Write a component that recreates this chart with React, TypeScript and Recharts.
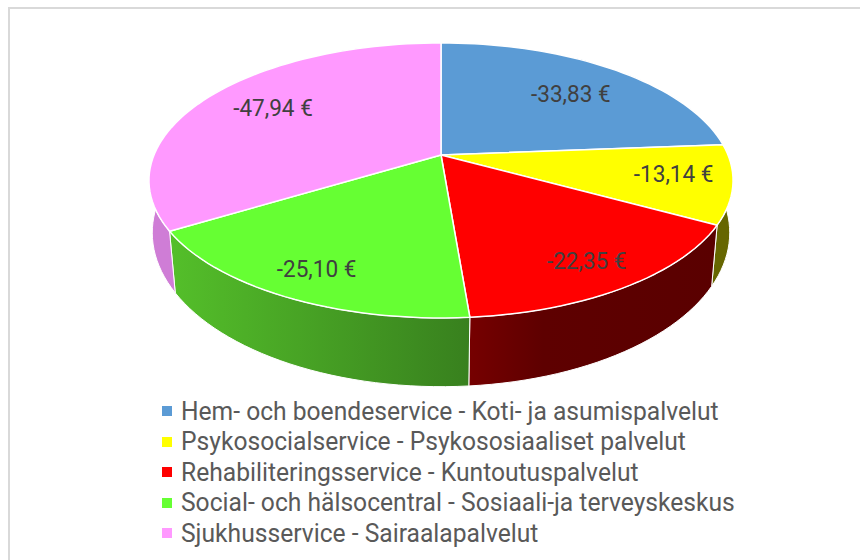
import { PieChart, Pie, Legend } from 'recharts';

const services = [
  'Hem- och boendeservice - Koti- ja asumispalvelut',
  'Psykosocialservice - Psykososiaaliset palvelut',
  'Rehabiliteringsservice - Kuntoutuspalvelut',
  'Social- och hälsocentral - Sosiaali-ja terveyskeskus',
  'Sjukhusservice - Sairaalapalvelut',
];
const costs = [-33.83, -13.14, -22.35, -25.1, -47.94];
const topColors = ['#5b9bd5', '#ffff00', '#ff0000', '#66ff33', '#ff99ff'];
const wallColors = ['#375d80', '#666600', 'url(#wallRed)', 'url(#wallGreen)', '#cf7dd6'];
// how far out on the slice each label sits, and a small pixel nudge
const labelReach = [0.72, 0.8, 0.82, 0.83, 0.72];
const labelNudgeX = [2, 1, -1, 1, 1];
const labelNudgeY = [3, -4, 1, 0, -3];

const topRows = services.map((name, i) => ({
  name,
  value: Math.abs(costs[i]),
  cost: costs[i],
  fill: topColors[i],
  reach: labelReach[i],
  nudgeX: labelNudgeX[i],
  nudgeY: labelNudgeY[i],
}));
const wallRows = services.map((name, i) => ({ name, value: Math.abs(costs[i]), fill: wallColors[i] }));

// perspective of the tilted disc, fitted on the reference
const TOP_FACE = { tilt: 0.185, radius: 287, depth: 132.8, cy: 155 };
const BOTTOM_FACE = { tilt: 0.16, radius: 285, depth: 150, cy: 208.1 };
const FONT = 'Roboto, sans-serif';

type Face = typeof TOP_FACE;

// pie angle (degrees, recharts convention) to a point on a face of the disc
function project(face: Face, cx: number, angle: number, reach = 1) {
  const a = ((90 - angle) * Math.PI) / 180;
  const X = reach * Math.sin(a);
  const Y = -reach * Math.cos(a);
  const w = 1 - face.tilt * Y;
  return { x: cx + (face.radius * X) / w, y: face.cy + (face.depth * Y) / w };
}

function arcPoints(face: Face, cx: number, from: number, to: number) {
  const n = Math.max(2, Math.ceil(Math.abs(to - from) / 2));
  const pts = [];
  for (let i = 0; i <= n; i++) pts.push(project(face, cx, from + ((to - from) * i) / n));
  return pts;
}

const toPath = (pts: { x: number; y: number }[]) => 'M' + pts.map((p) => `${p.x.toFixed(2)},${p.y.toFixed(2)}`).join('L') + 'Z';

function TopSlice(props: any) {
  const { cx, cy, startAngle, endAngle, fill } = props;
  const rim = arcPoints(TOP_FACE, cx, startAngle, endAngle);
  return <path d={toPath([{ x: cx, y: cy }, ...rim])} fill={fill} stroke="#fff" strokeWidth={1.5} strokeLinejoin="round" />;
}

function WallSlice(props: any) {
  const { cx, startAngle, endAngle, fill } = props;
  const rim = arcPoints(TOP_FACE, cx, startAngle, endAngle);
  const low = arcPoints(BOTTOM_FACE, cx, endAngle, startAngle);
  return <path d={toPath([...rim, ...low])} fill={fill} stroke="#fff" strokeWidth={1} strokeLinejoin="round" />;
}

function SliceLabel(props: any) {
  const { cx, midAngle, payload } = props;
  const p = project(TOP_FACE, cx, midAngle, payload.reach);
  const text = `${payload.cost.toFixed(2).replace('.', ',')} €`;
  return (
    <text
      transform={`translate(${p.x + payload.nudgeX},${p.y + payload.nudgeY}) scale(0.94,1)`}
      textAnchor="middle"
      dominantBaseline="central"
      fontFamily={FONT}
      fontSize={24}
      fill="#404040"
    >
      {text}
    </text>
  );
}

function LegendList({ payload }: any) {
  const items = (payload || []).filter((item: any) => item.type !== 'none');
  return (
    <div>
      {items.map((item: any) => (
        <div key={item.value} style={{ height: 30.5, display: 'flex', alignItems: 'center' }}>
          <span style={{ width: 10, height: 10, marginRight: 9, background: item.color, flex: 'none' }} />
          <span
            style={{
              fontFamily: FONT,
              fontSize: 25,
              color: '#595959',
              whiteSpace: 'nowrap',
              transform: 'scaleX(0.985)',
              transformOrigin: 'left center',
            }}
          >
            {item.value}
          </span>
        </div>
      ))}
    </div>
  );
}

export default function App() {
  return (
    <div style={{ position: 'absolute', left: 0, top: 0, width: 860, height: 560, background: '#fff', overflow: 'hidden' }}>
      <div style={{ position: 'absolute', left: 8, top: 7, right: -4, bottom: -4, border: '2px solid #d9d9d9' }} />
      <PieChart width={860} height={560} margin={{ top: 0, right: 0, bottom: 0, left: 0 }} style={{ position: 'absolute', left: 0, top: 0 }}>
        <defs>
          <linearGradient id="wallGreen" x1="0" y1="0" x2="1" y2="0">
            <stop offset="0%" stopColor="#54bf2a" />
            <stop offset="100%" stopColor="#38801e" />
          </linearGradient>
          <linearGradient id="wallRed" x1="1" y1="0" x2="0" y2="0">
            <stop offset="0%" stopColor="#5a0000" />
            <stop offset="70%" stopColor="#5e0000" />
            <stop offset="100%" stopColor="#760000" />
          </linearGradient>
        </defs>
        <Pie
          data={wallRows}
          dataKey="value"
          nameKey="name"
          cx={441}
          cy={155}
          outerRadius={287}
          startAngle={90}
          endAngle={-270}
          legendType="none"
          shape={WallSlice}
          isAnimationActive={false}
        />
        <Pie
          data={topRows}
          dataKey="value"
          nameKey="name"
          cx={441}
          cy={155}
          outerRadius={287}
          startAngle={90}
          endAngle={-270}
          legendType="square"
          shape={TopSlice}
          label={SliceLabel}
          labelLine={false}
          isAnimationActive={false}
        />
        <Legend
          content={LegendList}
          itemSorter={null}
          wrapperStyle={{ position: 'absolute', left: 162, top: 396, width: 680, bottom: 'auto' }}
        />
      </PieChart>
    </div>
  );
}
